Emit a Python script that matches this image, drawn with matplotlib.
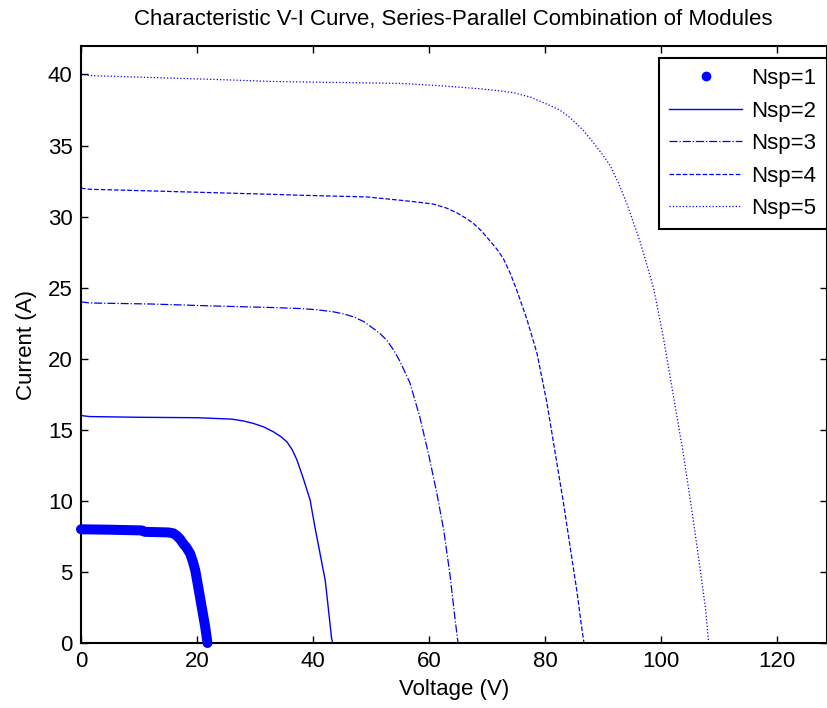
import matplotlib
matplotlib.use("Agg")
import matplotlib.pyplot as plt
from matplotlib.lines import Line2D

plt.rcParams['font.family'] = ['Liberation Sans', 'DejaVu Sans']

# Voltage (V) / Current (A) points
v1 = [0, 5, 10.5, 11, 15.0, 15.9, 16.5, 17.1, 17.6, 18.2, 18.8, 19.3, 19.7, 20.2, 20.8, 21.4, 21.7, 21.8]
i1 = [8.0, 7.97, 7.92, 7.82, 7.78, 7.72, 7.55, 7.3, 7.0, 6.7, 6.3, 5.7, 5.1, 3.96, 2.55, 1.15, 0.3, 0.0]

v2 = [0, 1.5, 10, 20, 26, 28, 29.7, 31.5, 33.2, 34.5, 35.5, 36.4, 37.2, 38.3, 39.5, 40.3, 41.2, 42.1, 42.6, 43.2, 43.4]
i2 = [16.0, 15.93, 15.88, 15.85, 15.75, 15.62, 15.45, 15.2, 14.85, 14.5, 14.15, 13.6, 12.9, 11.6, 10.05, 8.2, 6.3, 4.4, 2.55, 0.3, 0.0]

v3 = [0, 1.5, 12, 22, 33, 37.8, 40.5, 43.5, 45.3, 47.0, 48.8, 50.4, 51.6, 52.7, 53.9, 55.0, 56.7, 58.4, 59.9, 61.3, 62.5, 63.6, 64.5, 64.9, 65.0]
i3 = [24.0, 23.92, 23.85, 23.72, 23.6, 23.53, 23.45, 23.3, 23.15, 22.94, 22.6, 22.12, 21.75, 21.3, 20.6, 19.8, 18.3, 15.9, 13.3, 10.6, 8.0, 4.8, 1.6, 0.3, 0.0]

v4 = [0, 1.5, 12.4, 22.8, 33.4, 37.8, 49.3, 55.0, 58.0, 60.7, 63.0, 64.8, 66.3, 67.6, 69.0, 70.5, 71.7, 72.8, 74.0, 75.1, 76.8, 78.6, 80.3, 81.7, 83.2, 84.3, 85.5, 86.3, 86.7]
i4 = [32.0, 31.92, 31.8, 31.68, 31.56, 31.5, 31.38, 31.15, 31.02, 30.88, 30.6, 30.26, 29.9, 29.53, 29.0, 28.29, 27.7, 27.05, 26.0, 24.83, 22.85, 20.38, 16.92, 13.46, 9.76, 6.79, 3.58, 1.1, 0.0]

v5 = [0, 1.5, 12.4, 22.8, 33.4, 55.0, 62.0, 68.8, 72.0, 74.5, 77.5, 80.3, 82.5, 84.3, 86.5, 88.3, 90.0, 91.2, 92.7, 94.1, 96.4, 98.7, 100.4, 102.1, 103.8, 105.3, 106.7, 107.6, 108.2]
i5 = [40.0, 39.92, 39.78, 39.65, 39.5, 39.37, 39.2, 38.99, 38.85, 38.72, 38.4, 37.91, 37.5, 36.96, 36.1, 35.21, 34.3, 33.6, 32.3, 30.9, 28.2, 24.96, 21.45, 17.41, 13.36, 9.31, 5.27, 2.57, 0.0]

labels = ['Nsp=1', 'Nsp=2', 'Nsp=3', 'Nsp=4', 'Nsp=5']
xticks = [0, 20, 40, 60, 80, 100, 120]
yticks = [0, 5, 10, 15, 20, 25, 30, 35, 40]

W, H = 827, 708
fig = plt.figure(figsize=(W / 100, H / 100), dpi=100)
ax = fig.add_axes([81 / W, (H - 643) / H, (826.5 - 81) / W, (643 - 46) / H])

blue = '#0000ff'
ax.plot(v1, i1, '-', color=blue, lw=7.2, solid_capstyle='round', solid_joinstyle='round', clip_on=False, zorder=3)
ax.plot(v2, i2, '-', color=blue, lw=1.0)
ax.plot(v3, i3, '-.', color=blue, lw=0.9)
ax.plot(v4, i4, '--', color=blue, lw=0.9)
ax.plot(v5, i5, ':', color=blue, lw=0.9)

ax.set_xlim(0, 128.5)
ax.set_ylim(0, 42)
ax.set_xticks(xticks)
ax.set_yticks(yticks)
ax.tick_params(direction='in', length=5, width=1, top=True, right=True, labelsize=16, pad=6)
for s in ax.spines.values():
    s.set_linewidth(1.5)

ax.set_xlabel('Voltage (V)', fontsize=16, labelpad=5)
ax.set_ylabel('Current (A)', fontsize=16, labelpad=8)
ax.set_title('Characteristic V-I Curve, Series-Parallel Combination of Modules', fontsize=16, pad=15)

handles = [
    Line2D([], [], color=blue, marker='o', ms=6, ls='none'),
    Line2D([], [], color=blue, ls='-', lw=1.0),
    Line2D([], [], color=blue, ls='-.', lw=0.9),
    Line2D([], [], color=blue, ls='--', lw=0.9),
    Line2D([], [], color=blue, ls=':', lw=0.9),
]
leg = ax.legend(handles, labels, loc='upper right', bbox_to_anchor=(826.5 / W, (H - 58) / H),
                bbox_transform=fig.transFigure, borderaxespad=0, fontsize=16,
                fancybox=False, framealpha=1, edgecolor='black', handlelength=3.3,
                handletextpad=0.4, labelspacing=0.52, borderpad=0.45)
leg.get_frame().set_linewidth(1.5)

fig.savefig('out.png', dpi=100)
